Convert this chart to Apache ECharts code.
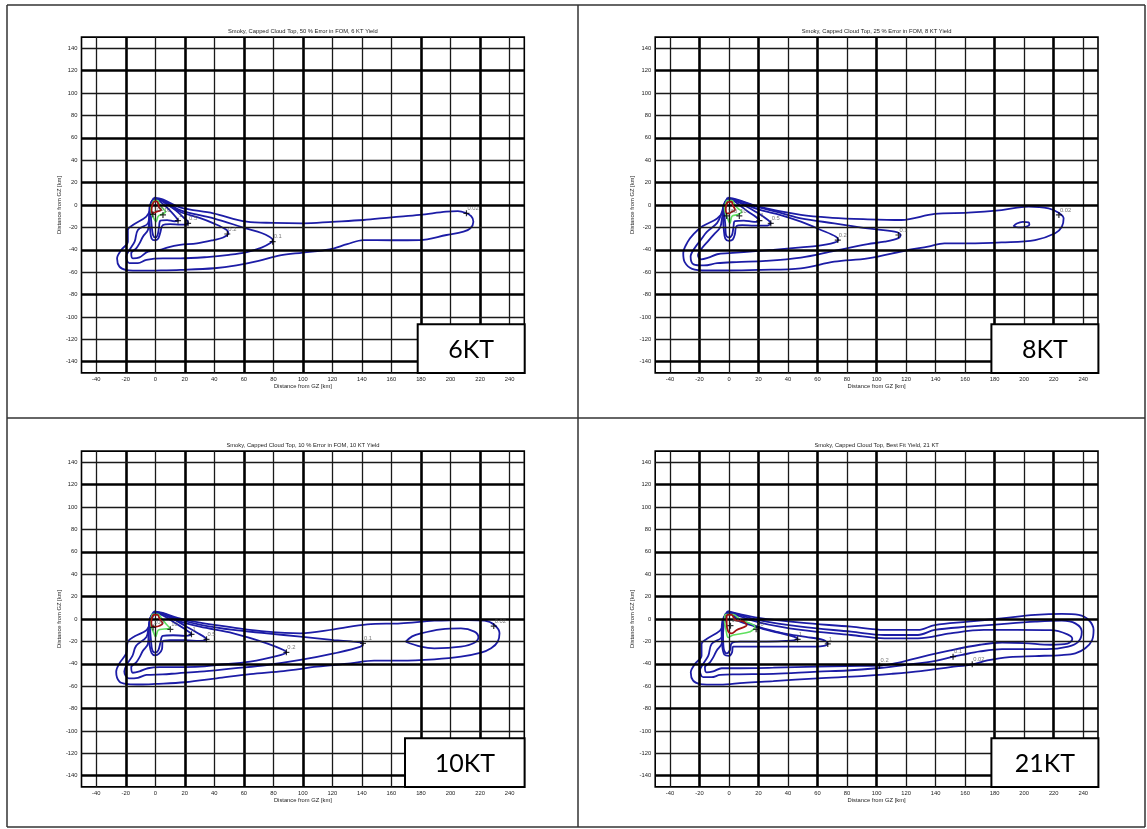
<!DOCTYPE html>
<html><head><meta charset="utf-8">
<script src="https://cdn.jsdelivr.net/npm/echarts@6/dist/echarts.min.js"></script>
<style>html,body{margin:0;padding:0;background:#fff}#c{width:1147px;height:829px}</style>
</head><body><div id="c"></div>
<script>
// ---------- data ----------
const xTicks = [-40,-20,0,20,40,60,80,100,120,140,160,180,200,220,240];
const yTicks = [-140,-120,-100,-80,-60,-40,-20,0,20,40,60,80,100,120,140];
const xThick = [-20,20,60,100,180,220];
const yThick = [120,60,20,0,-40,-80,-140];
const titles = [
  'Smoky, Capped Cloud Top, 50 % Error in FOM, 6 KT Yield',
  'Smoky, Capped Cloud Top, 25 % Error in FOM, 8 KT Yield',
  'Smoky, Capped Cloud Top, 10 % Error in FOM, 10 KT Yield',
  'Smoky, Capped Cloud Top, Best Fit Yield, 21 KT'
];
const yieldLabels = ['6KT','8KT','10KT','21KT'];
const axisName = 'Distance from GZ [km]';

// Panel 1 (6 KT)
const p1Red = [[-1,3],[1,3.2],[2,1],[2.5,-2],[4,-4.5],[2,-5.5],[0,-6.5],[-2,-7.5],[-2.5,-4],[-2,0],[-1,3]];
const p1Green = [[-1,4],[1.5,4],[3,1],[5,-3],[7,-6],[5,-8],[2,-10],[0.5,-15],[-1,-12],[-2.5,-8],[-3,-3],[-2,1.5],[-1,4]];
const p1C1 = [[-1,4.5],[2,4],[6,0],[10,-5],[14,-11],[15.4,-14],[13,-14.5],[8,-13.5],[3.5,-14],[2.5,-20],[1.5,-27],[0,-29],[-1.5,-27],[-2.5,-18],[-3,-9],[-3,-2],[-2,3],[-1,4.5]];
const p1C05 = [[-1,5],[3,4.5],[8,0.5],[14,-5],[19,-11],[22.2,-15.5],[21.5,-17.5],[17,-17.5],[10,-17],[5,-18],[3.5,-24],[2,-30],[0,-31.5],[-2.5,-30],[-3.5,-22],[-4,-12],[-4,-3],[-2.5,3],[-1,5]];
const p1C02 = [[-1,5.5],[4,4],[16.7,-6],[30,-11.5],[39.5,-16.4],[48.4,-22.3],[49.5,-25.3],[46,-29],[39.5,-31.3],[28.2,-34.3],[16.7,-35.7],[8,-38],[2.9,-40.2],[-5,-41.7],[-10.7,-46.8],[-15.2,-47.7],[-16.3,-43.2],[-12.9,-38.7],[-10.7,-34.3],[-8.4,-28.3],[-5,-22.3],[-4,-12],[-3,1],[-1,5.5]];
const p1C01 = [[-1,6],[5,4.5],[16.7,-4.5],[39.5,-11.9],[61.5,-20.9],[72,-25],[77.3,-28.3],[79.6,-31.3],[78,-34],[72,-38],[62,-42],[50,-44.5],[35,-46.5],[17,-47.7],[5.2,-47.7],[-6,-49],[-11.8,-52],[-17.5,-52],[-19.7,-46.2],[-17.5,-40.2],[-14,-32.8],[-11.8,-22.3],[-5,-16.4],[-4,-8],[-3,2],[-1,6]];
const p1C002 = [[-1,6.5],[5,5],[16.7,-2.1],[39.3,-7.4],[61.9,-14.9],[80,-16],[100,-16.4],[120,-15],[141,-13.4],[160,-11],[179,-8.9],[197,-6],[205,-5.5],[210,-6.9],[214,-10],[215.5,-14.9],[213.4,-20.9],[208.8,-23.8],[197.3,-26.8],[179,-31.3],[160,-31.5],[141,-31.3],[130,-35],[118,-39.6],[100,-42.5],[84.5,-45],[70,-50],[55,-54],[40,-56.5],[17,-58],[0,-58.6],[-6,-58.7],[-14,-58.6],[-19.7,-58.1],[-24.3,-55.1],[-25.9,-47.7],[-23.1,-40.2],[-18.6,-32.8],[-18.6,-22.3],[-15.2,-17.9],[-6.1,-10.4],[-3,-3],[-1,6.5]];
const p1Marks = [[-1.6,-8.3,'100'],[5.2,-8.9,'10'],[15.4,-14,'1'],[22.2,-16.4,'0.5'],[48.8,-25.9,'0.2'],[79.5,-32.8,'0.1'],[210.8,-7.4,'0.02']];

// Panel 2 (8 KT)
const p2Red = [[-1.1,2.5],[1.8,3],[2.5,0],[4.1,-4.5],[2,-6],[0.2,-7.4],[-1.6,-7.4],[-2.2,-3],[-1.1,2.5]];
const p2Green = [[-1.5,4],[2,4],[4,0],[6,-3],[8.6,-6],[6,-8.5],[2,-10],[0.7,-16.4],[-1,-12],[-2.5,-7],[-3,-2],[-1.5,4]];
const p2C1 = [[-1,4.5],[2.5,4],[7,0],[13,-6],[18.5,-11],[20.6,-14],[17,-15],[10,-14],[4,-14.5],[3,-20],[2,-27],[0,-29],[-2,-27],[-2.5,-18],[-3,-9],[-3,-2],[-1,4.5]];
const p2C05 = [[-1,5],[3,4.5],[10,0],[18,-6],[25,-12],[28.3,-16.4],[25,-18.5],[17,-18.5],[9,-18],[5,-19],[4,-26],[2.5,-31],[0,-32],[-2.5,-30],[-3.5,-22],[-4,-12],[-4,-3],[-2.5,3],[-1,5]];
const p2C02 = [[-1,5.5],[4,4],[20,-4],[35,-9],[48.7,-14.9],[62.3,-22.3],[72.5,-28.3],[74,-31.3],[71.3,-33.7],[60,-36.6],[48.7,-37.8],[30,-40],[10,-42],[0,-43],[-8,-44],[-14,-47],[-19,-48.5],[-21,-45],[-18,-38],[-14,-32],[-10,-26],[-6,-20],[-4.5,-10],[-3,1],[-1,5.5]];
const p2C01 = [[-1,6],[5,4.5],[20,-2],[35,-7],[48.7,-11.9],[71.3,-16.4],[94,-20.9],[112.2,-23.8],[116.2,-26.8],[114.4,-29.8],[105.4,-32.8],[94,-35],[71.3,-41],[48.7,-47],[25,-50],[5,-51],[-8,-52],[-17,-54],[-24,-53],[-26,-46],[-23,-38],[-19,-31],[-15,-24],[-8,-16],[-5,-7],[-3,2],[-1,6]];
const p2C002 = [[-1,6.5],[5,5],[20,-1.5],[48.7,-8.9],[70,-11.5],[94,-12.8],[116.7,-13.4],[139.4,-8],[162,-6.9],[184.7,-4.5],[202.9,-1.5],[216.5,-3],[223.3,-6.9],[226.7,-11.9],[225.5,-19.4],[221,-25.3],[207.4,-31.3],[184.7,-33.4],[162,-34.3],[146,-34.3],[134.8,-37.2],[121.2,-40.2],[94,-47.7],[71.3,-50.6],[48.7,-56.6],[20,-58],[0,-58.5],[-15,-58.5],[-25,-57],[-30,-51],[-31,-43],[-28,-33],[-24,-26],[-18,-19],[-8,-12],[-3,-4],[-1,6.5]];
const p2Island = [[192.7,-19],[195,-16.5],[199,-15],[203,-15.5],[203.5,-17.5],[201,-19.5],[196,-20],[192.7,-19]];
const p2Marks = [[-1.6,-9.8,'100'],[7,-9.8,'10'],[20.6,-14,'1'],[28.3,-16.4,'0.5'],[73.7,-31.3,'0.2'],[114.8,-26.8,'0.1'],[223.5,-8.9,'0.02']];

// Panel 3 (10 KT)
const p3Red = [[-1.5,3.6],[1.5,3.6],[3,0],[5,-4],[3,-6],[0,-6.9],[-2.5,-6],[-2.7,-2],[-1.5,3.6]];
const p3Green = [[-2,4.2],[2,4.2],[4,1],[7,-4],[9.8,-8.3],[6,-9],[2,-10],[0.2,-15.8],[-1.5,-11],[-3,-6],[-3,-1],[-2,4.2]];
const p3C1 = [[-1,4.8],[3,4.3],[8,1],[14,-4],[20,-9],[24.5,-13.7],[20,-15],[12,-14.5],[5,-15],[3.5,-21],[2,-28],[0,-30],[-2,-28],[-3,-18],[-3.5,-8],[-3,-1],[-1,4.8]];
const p3C05 = [[-1,5.2],[4,4.8],[12,0],[20,-6],[28,-12],[34.7,-18.2],[30,-19.5],[20,-19],[10,-19],[5,-20],[4.5,-27],[2.5,-31],[0,-32.5],[-2.5,-30.5],[-4,-22],[-4.5,-12],[-4,-3],[-2.5,3],[-1,5.2]];
const p3C02 = [[-1,5.8],[5,4.5],[15,-1.5],[30.2,-6.9],[52.9,-12.8],[75.6,-21.7],[86.9,-27.7],[88.8,-29.8],[84.7,-32.2],[64.3,-38.1],[41.6,-41.1],[30.2,-42.6],[15,-43],[3,-43],[-5,-44],[-10.7,-46.8],[-15.2,-48],[-16.3,-43.2],[-12.9,-38.7],[-10.7,-34.3],[-8.4,-28.3],[-5,-22.3],[-4.5,-12],[-3.5,1],[-1,5.8]];
const p3C01 = [[-1,6.2],[5,5],[15,0],[30,-5],[52.9,-9.8],[75.6,-12.8],[98.3,-15.8],[121,-18.8],[136,-20.5],[140.7,-21.7],[139.1,-24.7],[121,-30.7],[98.3,-36.6],[75.6,-41.1],[52.9,-44.1],[30.2,-47.1],[15,-48.5],[5,-49.5],[-6,-50],[-11.8,-52.5],[-18,-53],[-21,-47],[-19,-40],[-15.5,-33],[-13,-24],[-6,-16],[-4.5,-7],[-3,2],[-1,6.2]];
const p3C002 = [[-1,6.8],[5,5.5],[15,1],[30.2,-3.3],[52,-7.5],[75.6,-11.3],[98.3,-12.8],[121,-9.2],[143.6,-4.8],[166.3,-3.9],[189,-1.5],[211.7,-0.9],[223,-1.5],[229.8,-5.4],[233.2,-12.8],[232,-20.3],[227.5,-26.2],[220.7,-30.1],[207.1,-33.7],[189,-36],[166.3,-37.2],[148.2,-37.2],[132.3,-39.6],[109.6,-42.6],[86.9,-46.5],[64.3,-49.2],[41.6,-53],[20,-56.5],[0,-58],[-10,-58.5],[-18.6,-58.1],[-24.3,-56],[-26.5,-47.1],[-24.3,-39.6],[-19.7,-30.7],[-18.6,-20.3],[-14,-15.5],[-6,-10],[-3,-3],[-1,6.8]];
const p3Island = [[169.7,-20.3],[174,-15.5],[179.9,-12.8],[193.5,-9.2],[207.1,-8.3],[216.2,-11.3],[218.9,-16.4],[216.2,-21.2],[207.1,-24.7],[189,-26.2],[179.9,-24.7],[169.7,-20.3]];
const p3Marks = [[-1.5,-7.5,'100'],[10.2,-9.2,'10'],[24.5,-13.7,'1'],[34.7,-18.2,'0.5'],[88.8,-29.8,'0.2'],[140.7,-21.7,'0.1'],[229.3,-6.3,'0.02']];

// Panel 4 (21 KT)
const p4Red = [[-1.6,3.6],[1.8,3.6],[4.1,-0.9],[9.8,-2.4],[12,-5.4],[5.2,-9.8],[1.8,-12.8],[-0.5,-11.3],[-1.6,-3.9],[-1.6,3.6]];
const p4Green = [[-2.7,4],[2.9,4],[7.5,-0.3],[17.7,-6.9],[14.3,-11.3],[2.9,-14.3],[-0.5,-16.5],[-2,-9.8],[-3,-2],[-2.7,4]];
const p4C1 = [[-2,5],[2,4.5],[5.2,-0.9],[15,-5.5],[25.6,-9.8],[36,-13],[43.8,-15.8],[46.5,-18.2],[41.5,-19.4],[25.6,-20.3],[7.5,-20.3],[1.8,-21.7],[0.7,-27.7],[-1.6,-30.7],[-3.5,-27],[-4,-15],[-4,-4],[-2,5]];
const p4C05 = [[-2,5.5],[2,5],[5.2,0.6],[20,-7],[37,-12.8],[52,-16],[64.2,-18.8],[66.9,-22.3],[59.6,-24.7],[40,-24.7],[25.6,-24.7],[2.9,-24.7],[2,-30],[0,-33],[-3,-32],[-4.5,-25],[-5,-12],[-4.5,-2],[-2,5.5]];
const p4C02 = [[-1,6],[4,4],[20,-3],[48.7,-9.8],[82.7,-14.3],[105.4,-17.3],[128,-17.3],[150,-12.8],[172.7,-9.8],[195.4,-9.8],[218,-10],[229.3,-13.7],[232.6,-17.9],[229.3,-22],[218,-23],[200,-21.5],[185,-21],[170,-23],[150,-28],[130,-34],[115,-39],[102,-41.7],[80,-42],[60,-42.5],[30,-43.5],[2.9,-44],[-5,-44],[-10.7,-46.8],[-15.2,-47.7],[-16.3,-43.2],[-12.9,-38.7],[-10.7,-34.3],[-8.4,-28.3],[-5,-22.3],[-4,-12],[-3,1],[-1,6]];
const p4C01 = [[-1,6.5],[5,4.5],[20,-1],[48.7,-6.9],[82.7,-11.3],[105.4,-14.3],[128,-14.3],[139.4,-9.8],[162,-6.9],[184.7,-4.5],[207.4,-2.4],[225.5,-1.5],[234.6,-3.9],[239,-11.3],[236.7,-20.3],[229.8,-24.7],[215,-27],[200,-27],[185,-27],[170,-29],[158,-32],[151.8,-33.7],[140,-37.5],[120,-41],[100,-44],[80,-46],[60,-47],[30,-49],[5.2,-49.5],[-6,-50],[-11.8,-52],[-17.5,-52],[-19.7,-46.2],[-17.5,-40.2],[-14,-32.8],[-11.8,-22.3],[-5,-16.4],[-4,-8],[-3,2],[-1,6.5]];
const p4C002 = [[-1,7],[5,5],[20,1],[48.7,-3.3],[82.7,-6.9],[105.4,-9.8],[128,-9.8],[139.4,-5.4],[162,-2.4],[184.7,0.6],[207.4,3.6],[225.5,4.5],[236.9,3.6],[243.7,-0.9],[247,-9.8],[246,-18.8],[241.4,-26.2],[234.6,-30.7],[225.5,-32.2],[207.4,-33.1],[190,-34],[175,-37],[165,-40.5],[150,-43],[130,-46.5],[110,-49],[90,-51],[60,-53],[30,-55.5],[10,-57],[-6,-58.7],[-14,-58.6],[-19.7,-58.1],[-24.3,-55.1],[-25.9,-47.7],[-23.1,-40.2],[-18.6,-32.8],[-18.6,-22.3],[-15.2,-17.9],[-6.1,-10.4],[-3,-3],[-1,7]];
const p4Marks = [[1,-6,'100'],[18.4,-9.2,'10'],[46.5,-18.2,'1'],[66.9,-22.3,'1'],[102,-41.7,'0.2'],[151.8,-33.7,'0.1'],[164.8,-40.5,'0.02']];

// ---------- layout ----------
const panels = [
  {left:81.5, top:37.1, red:p1Red, green:p1Green, blue:[p1C1,p1C05,p1C02,p1C01,p1C002], marks:p1Marks, box:[417.7,324.3,107,48.6]},
  {left:655.2, top:37.1, red:p2Red, green:p2Green, blue:[p2C1,p2C05,p2C02,p2C01,p2C002,p2Island], marks:p2Marks, box:[991.4,324.3,107,48.6]},
  {left:81.5, top:451.1, red:p3Red, green:p3Green, blue:[p3C1,p3C05,p3C02,p3C01,p3C002,p3Island], marks:p3Marks, box:[405,738.3,119.6,48.6]},
  {left:655.2, top:451.1, red:p4Red, green:p4Green, blue:[p4C1,p4C05,p4C02,p4C01,p4C002], marks:p4Marks, box:[991.4,738.3,107,48.6]}
];
const GW = 442.8, GH = 335.8;
const FONT = 'Liberation Sans, Arial, sans-serif';
const FS = 5.8;
const BLUE = '#1c1ca6', GREEN = '#5fe05f', RED = '#a01212';
const PLUS = 'path://M4,0h2v4h4v2h-4v4h-2v-4h-4v-2h4z';

const grid = [], xAxis = [], yAxis = [], series = [], graphic = [];
panels.forEach((p, i) => {
  grid.push({left:p.left, top:p.top, width:GW, height:GH, show:true, borderColor:'#000', borderWidth:1.6, backgroundColor:'#fff', containLabel:false});
  xAxis.push({gridIndex:i, type:'value', min:-50, max:250, splitNumber:15,
    axisLine:{show:false}, splitLine:{show:false},
    axisTick:{show:true, inside:true, length:3, lineStyle:{color:'#000', width:1}},
    axisLabel:{fontSize:FS, color:'#222', fontFamily:FONT, margin:3, showMinLabel:false, showMaxLabel:false,
      formatter: v => (v % 20 === 0 ? String(v) : '')},
    name:axisName, nameLocation:'middle', nameGap:10,
    nameTextStyle:{fontSize:FS, color:'#222', fontFamily:FONT}});
  yAxis.push({gridIndex:i, type:'value', min:-150, max:150, splitNumber:15,
    axisLine:{show:false}, splitLine:{show:false},
    axisTick:{show:true, inside:true, length:3, lineStyle:{color:'#000', width:1}},
    axisLabel:{fontSize:FS, color:'#222', fontFamily:FONT, margin:4, showMinLabel:false, showMaxLabel:false,
      formatter: v => (v % 20 === 0 ? String(v) : '')},
    name:axisName, nameLocation:'middle', nameGap:15,
    nameTextStyle:{fontSize:FS, color:'#222', fontFamily:FONT}});
  const ml = [];
  xTicks.forEach(v => ml.push({xAxis:v, lineStyle:{color: xThick.includes(v) ? '#000' : '#1a1a1a', width: xThick.includes(v) ? 2.6 : 1.3, type:'solid'}}));
  yTicks.forEach(v => ml.push({yAxis:v, lineStyle:{color: yThick.includes(v) ? '#000' : '#1a1a1a', width: yThick.includes(v) ? 2.6 : 1.3, type:'solid'}}));
  series.push({type:'line', xAxisIndex:i, yAxisIndex:i, data:[], z:1, silent:true,
    markLine:{silent:true, symbol:['none','none'], label:{show:false}, emphasis:{disabled:true}, animation:false, data:ml}});
  p.blue.forEach(d => series.push({type:'line', xAxisIndex:i, yAxisIndex:i, data:d, showSymbol:false, smooth:0.35, z:3, silent:true,
    lineStyle:{color:BLUE, width:1.8}}));
  series.push({type:'line', xAxisIndex:i, yAxisIndex:i, data:p.green, showSymbol:false, smooth:0.35, z:4, silent:true, lineStyle:{color:GREEN, width:1.6}});
  series.push({type:'line', xAxisIndex:i, yAxisIndex:i, data:p.red, showSymbol:false, smooth:0.35, z:5, silent:true, lineStyle:{color:RED, width:1.8}});
  series.push({type:'scatter', xAxisIndex:i, yAxisIndex:i, data:p.marks, symbol:PLUS, symbolSize:6, z:6, silent:true,
    itemStyle:{color:'#000'},
    label:{show:true, position:[4,-5], formatter: q => q.value[2], fontSize:FS, color:'#555', fontFamily:FONT}});
  // title
  graphic.push({type:'text', silent:true, style:{text:titles[i], x:p.left + GW/2, y:p.top - 6, align:'center', verticalAlign:'middle', font:FS + 'px ' + FONT, fill:'#222'}});
  // yield box
  const b = p.box;
  graphic.push({type:'rect', silent:true, z:100, shape:{x:b[0], y:b[1], width:b[2], height:b[3]}, style:{fill:'#fff', stroke:'#000', lineWidth:2}});
  graphic.push({type:'text', silent:true, z:101, style:{text:yieldLabels[i], x:b[0] + b[2]/2, y:b[1] + b[3]/2 + 1, align:'center', verticalAlign:'middle', font:'25px Lato, "Open Sans", sans-serif', fill:'#000'}});
});
// table borders
[[7,5,1145,5],[7,827,1145,827],[7,5,7,827],[1145,5,1145,827],[578,5,578,827],[7,418,1145,418]].forEach(s => {
  graphic.push({type:'line', silent:true, z:90, shape:{x1:s[0], y1:s[1], x2:s[2], y2:s[3]}, style:{stroke:'#333', lineWidth:1.5}});
});

const chart = echarts.init(document.getElementById('c'), null, {renderer:'canvas', width:1147, height:829});
chart.setOption({animation:false, backgroundColor:'#fff', grid, xAxis, yAxis, series, graphic});
</script></body></html>
